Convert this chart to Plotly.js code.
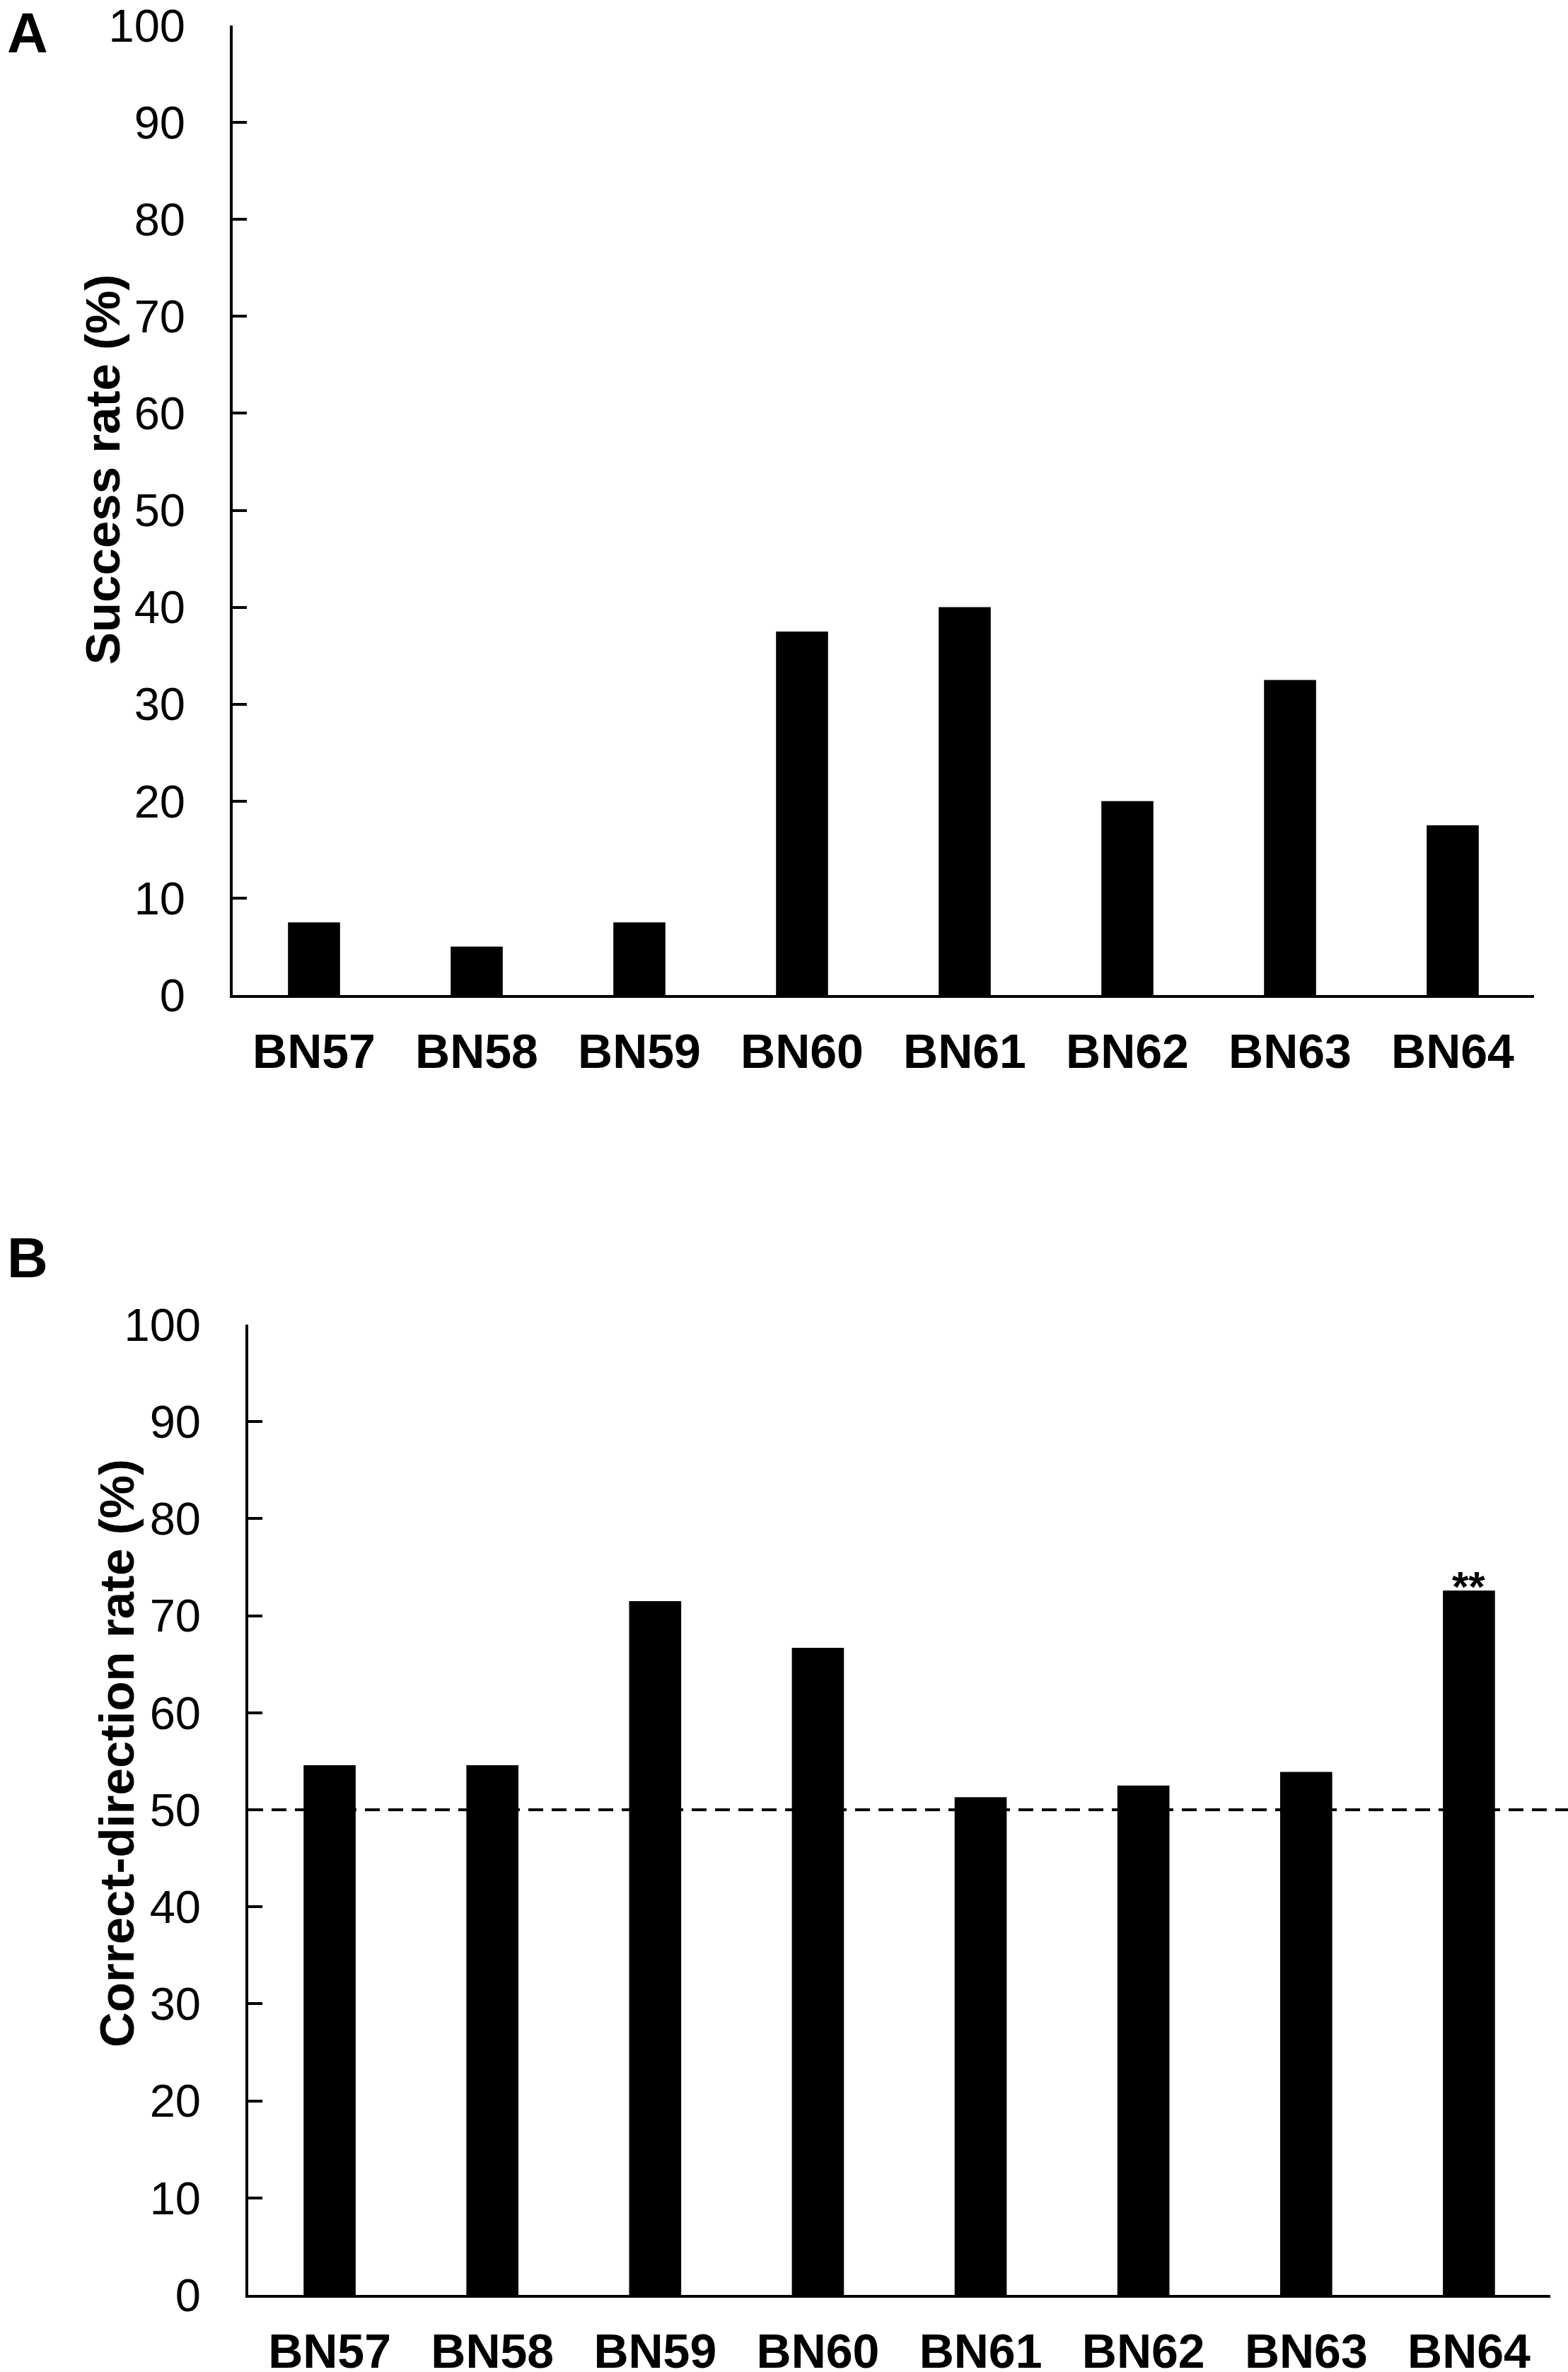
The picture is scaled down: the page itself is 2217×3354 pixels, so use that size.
<!DOCTYPE html>
<html>
<head>
<meta charset="utf-8">
<script src="https://cdn.plot.ly/plotly-3.0.1.min.js"></script>
<style>
  html, body { margin: 0; padding: 0; background: #fff; }
  #chart { width: 2217px; height: 3354px; }
</style>
</head>
<body>
<div id="chart"></div>
<script>
// ── Data ──────────────────────────────────────────────────────────────────────
const categories = ['BN57', 'BN58', 'BN59', 'BN60', 'BN61', 'BN62', 'BN63', 'BN64'];
const successRate = [7.5, 5, 7.5, 37.5, 40, 20, 32.5, 17.5];
const directionRate = [54.6, 54.6, 71.5, 66.7, 51.3, 52.5, 53.9, 72.6];
const chanceLevel = 50;
const yTicks = [0, 10, 20, 30, 40, 50, 60, 70, 80, 90, 100];
const markedBar = 'BN64';
const markText = '**';

// ── Layout helpers (pixel → paper) ────────────────────────────────────────────
const W = 2217, H = 3354;
const px = x => x / W;
const py = y => 1 - y / H;

const FONT = 'Liberation Sans, Arial, sans-serif';

const yAxisBase = {
  range: [0, 100], tickvals: yTicks, ticktext: yTicks.map(String),
  showline: true, linecolor: '#000', linewidth: 4,
  ticks: 'inside', ticklen: 20, tickwidth: 4, tickcolor: '#000',
  ticklabelstandoff: 50, ticklabeloverflow: 'allow',
  showgrid: false, zeroline: false, fixedrange: true,
  tickfont: { family: FONT, size: 65, color: '#000' },
};
const xAxisBase = {
  type: 'category', showline: true, linecolor: '#000', linewidth: 4,
  ticks: '', showgrid: false, zeroline: false, fixedrange: true,
  ticklabelstandoff: 17, ticklabeloverflow: 'allow',
  tickfont: { family: FONT, size: 68, color: '#000', weight: 'bold' },
};

const bar = (y, xa, ya) => ({
  type: 'bar', x: categories, y, xaxis: xa, yaxis: ya,
  width: 0.32, marker: { color: '#000', line: { width: 0 } },
  hoverinfo: 'skip', showlegend: false,
});

const layout = {
  width: W, height: H,
  margin: { l: 0, r: 0, t: 0, b: 0 },
  paper_bgcolor: '#fff', plot_bgcolor: 'rgba(0,0,0,0)',
  showlegend: false,
  xaxis:  { ...xAxisBase, domain: [px(329), px(2169)], anchor: 'y' },
  yaxis:  { ...yAxisBase, domain: [py(1407), py(36)], anchor: 'x' },
  xaxis2: { ...xAxisBase, domain: [px(351), px(2192)], anchor: 'y2' },
  yaxis2: { ...yAxisBase, domain: [py(3245), py(1873)], anchor: 'x2' },
  shapes: [{
    type: 'line', layer: 'below',
    xref: 'paper', x0: px(351), x1: 1,
    yref: 'y2', y0: chanceLevel, y1: chanceLevel,
    line: { color: '#000', width: 4, dash: '21px,12px' },
  }],
  annotations: [
    // panel letters
    { text: '<b>A</b>', xref: 'paper', yref: 'paper', x: px(8), y: py(0),
      xanchor: 'left', yanchor: 'top', showarrow: false,
      font: { family: FONT, size: 80, color: '#000' } },
    { text: '<b>B</b>', xref: 'paper', yref: 'paper', x: px(8), y: py(1732),
      xanchor: 'left', yanchor: 'top', showarrow: false,
      font: { family: FONT, size: 80, color: '#000' } },
    // y titles
    { text: '<b>Success rate (%)</b>', xref: 'paper', yref: 'paper',
      x: px(145), y: py(664), textangle: -90, showarrow: false,
      xanchor: 'center', yanchor: 'middle',
      font: { family: FONT, size: 69, color: '#000' } },
    { text: '<b>Correct-direction rate (%)</b>', xref: 'paper', yref: 'paper',
      x: px(165), y: py(2479), textangle: -90, showarrow: false,
      xanchor: 'center', yanchor: 'middle',
      font: { family: FONT, size: 69, color: '#000' } },
    // significance mark
    { text: '<b>' + markText + '</b>', xref: 'x2', yref: 'y2',
      x: markedBar, y: directionRate[categories.indexOf(markedBar)],
      xanchor: 'center', yanchor: 'bottom', yshift: -30, showarrow: false,
      font: { family: FONT, size: 60, color: '#000' } },
  ],
};

Plotly.newPlot('chart', [
  bar(successRate, 'x', 'y'),
  bar(directionRate, 'x2', 'y2'),
], layout, { displayModeBar: false, staticPlot: true });
</script>
</body>
</html>
